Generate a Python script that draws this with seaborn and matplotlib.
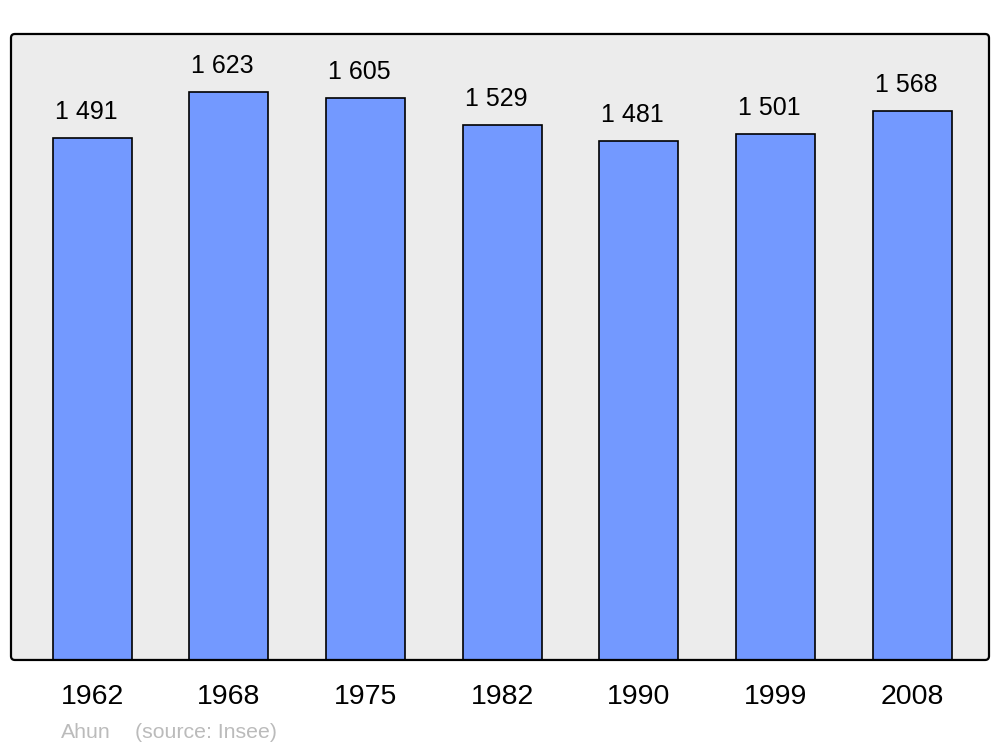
import pandas as pd
import seaborn as sns
import matplotlib.pyplot as plt
from matplotlib.patches import FancyBboxPatch

# Data
years = ['1962', '1968', '1975', '1982', '1990', '1999', '2008']
population = [1491, 1623, 1605, 1529, 1481, 1501, 1568]
commune = 'Ahun'

df = pd.DataFrame({'year': years, 'population': population})

sns.set_style('white')
plt.rcParams['font.family'] = ['Liberation Sans', 'DejaVu Sans']

fig = plt.figure(figsize=(10, 7.47), dpi=100)
ax = fig.add_axes([0.011, 0.1165, 0.978, 0.838])
ax.set_facecolor('none')

sns.barplot(data=df, x='year', y='population', ax=ax,
            color='#7399ff', saturation=1, edgecolor='black',
            linewidth=1.2, width=0.578)

ax.set_xlim(-0.593, 6.563)
ax.set_ylim(0, 1788)

# rounded frame (background + border)
aspect = 978 / 626
bg = FancyBboxPatch((0, 0), 1, 1, boxstyle='round,pad=0,rounding_size=0.004',
                    mutation_aspect=aspect, transform=ax.transAxes,
                    facecolor='#ececec', edgecolor='none', zorder=-1, clip_on=False)
frame = FancyBboxPatch((0, 0), 1, 1, boxstyle='round,pad=0,rounding_size=0.004',
                       mutation_aspect=aspect, transform=ax.transAxes,
                       facecolor='none', edgecolor='black', linewidth=1.6,
                       zorder=5, clip_on=False)
ax.add_patch(bg)
ax.add_patch(frame)

# value labels above bars
for i, v in enumerate(population):
    label = '{:,}'.format(v).replace(',', ' ')
    ax.annotate(label, (i, v), xytext=(-4.3, 13.7), textcoords='offset points',
                ha='center', va='baseline', fontsize=18, color='black')

ax.set_yticks([])
ax.set_xlabel('')
ax.set_ylabel('')
ax.tick_params(axis='x', length=0, pad=17.5, labelsize=20.5, colors='black')

for s in ax.spines.values():
    s.set_visible(False)

fig.text(0.061, 0.012, commune, fontsize=15.3, color='#bbbbbb', va='baseline')
fig.text(0.135, 0.012, '(source: Insee)', fontsize=15.3, color='#bbbbbb', va='baseline')

plt.savefig('out.png', dpi=100, facecolor='white')
